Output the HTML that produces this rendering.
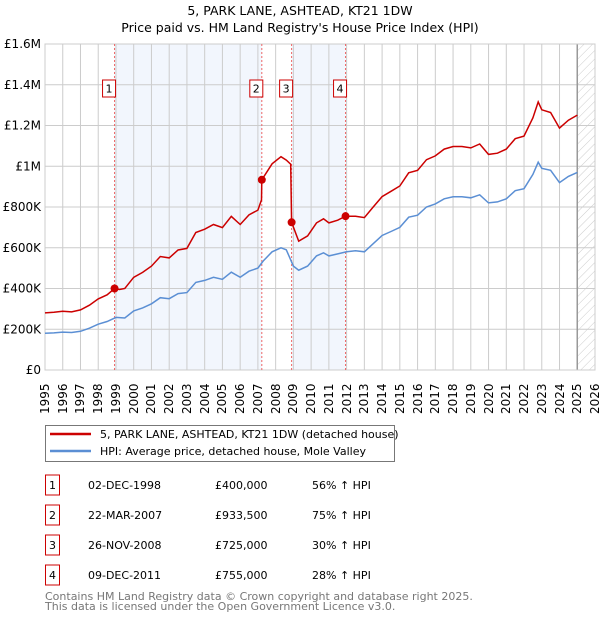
<!DOCTYPE html>
<html><head><meta charset="utf-8"><style>
body{margin:0;background:#fff;font-family:"DejaVu Sans","Liberation Sans",sans-serif;}
#wrap{position:relative;width:600px;height:620px;}
svg{display:block;position:absolute;left:0;top:0}
text{font-family:"DejaVu Sans","Liberation Sans",sans-serif;}
.yr{position:absolute;top:380px;font-size:12px;line-height:14px;writing-mode:vertical-rl;transform:rotate(180deg);white-space:nowrap;width:14px;height:34px;text-align:left;}
</style></head><body>
<div id="wrap">
<svg id="chart" width="600" height="620">
<defs><pattern id="hatch" width="6" height="6" patternUnits="userSpaceOnUse" patternTransform="rotate(45)"><line x1="0" y1="0" x2="0" y2="6" stroke="#ccc" stroke-width="1"/></pattern></defs>
<text x="300" y="15" text-anchor="middle" font-size="12.5">5, PARK LANE, ASHTEAD, KT21 1DW</text>
<text x="300" y="32" text-anchor="middle" font-size="12.5">Price paid vs. HM Land Registry's House Price Index (HPI)</text>
<g id="plot"></g>
<g>
<rect x="45.5" y="425.5" width="349" height="36" fill="#fff" stroke="#777"/>
<line x1="50" y1="434" x2="91" y2="434" stroke="#cc0000" stroke-width="2.5"/>
<text x="100" y="438" font-size="11">5, PARK LANE, ASHTEAD, KT21 1DW (detached house)</text>
<line x1="50" y1="451" x2="91" y2="451" stroke="#5b8fd4" stroke-width="2.5"/>
<text x="100" y="455" font-size="11">HPI: Average price, detached house, Mole Valley</text>
</g>
<g id="table"></g>
<text x="45" y="600" font-size="11" fill="#777">Contains HM Land Registry data © Crown copyright and database right 2025.</text>
<text x="45" y="610" font-size="11" fill="#777">This data is licensed under the Open Government Licence v3.0.</text>
</svg>
<div id="xlabels"></div>
</div>
<script>
const hpiT=[1995.0,1995.5,1996.0,1996.5,1997.0,1997.5,1998.0,1998.5,1999.0,1999.5,2000.0,2000.5,2001.0,2001.5,2002.0,2002.5,2003.0,2003.5,2004.0,2004.5,2005.0,2005.5,2006.0,2006.5,2007.0,2007.3,2007.8,2008.3,2008.6,2009.0,2009.3,2009.8,2010.3,2010.7,2011.0,2011.5,2012.0,2012.5,2013.0,2013.5,2014.0,2014.5,2015.0,2015.5,2016.0,2016.5,2017.0,2017.5,2018.0,2018.5,2019.0,2019.5,2020.0,2020.5,2021.0,2021.5,2022.0,2022.5,2022.8,2023.0,2023.5,2024.0,2024.5,2025.0];
const hpiV=[180,182,186,184,190,205,225,238,258,255,290,305,325,355,350,375,380,430,440,455,445,480,455,485,500,535,580,600,590,510,490,510,560,575,560,570,580,585,580,620,660,680,700,750,760,800,815,840,850,850,845,860,820,825,840,880,890,960,1020,990,980,920,950,970];
const redT=[1995.0,1995.5,1996.0,1996.5,1997.0,1997.5,1998.0,1998.5,1998.92,1999.2,1999.5,2000.0,2000.5,2001.0,2001.5,2002.0,2002.5,2003.0,2003.5,2004.0,2004.5,2005.0,2005.5,2006.0,2006.5,2007.0,2007.2,2007.22,2007.8,2008.3,2008.6,2008.85,2008.9,2009.3,2009.8,2010.3,2010.7,2011.0,2011.5,2011.94,2012.5,2013.0,2013.5,2014.0,2014.5,2015.0,2015.5,2016.0,2016.5,2017.0,2017.5,2018.0,2018.5,2019.0,2019.5,2020.0,2020.5,2021.0,2021.5,2022.0,2022.5,2022.8,2023.0,2023.5,2024.0,2024.5,2025.0];
const redV=[280,283,288,285,295,318,349,369,400,395,400,455,479,510,557,550,589,597,675,691,714,699,754,714,761,785,835,933,1012,1047,1030,1010,725,632,658,722,742,722,735,755,755,748,800,851,877,903,968,980,1032,1051,1084,1097,1097,1090,1109,1058,1064,1084,1135,1148,1238,1316,1277,1264,1187,1226,1251];
const saleT=[1998.92,2007.22,2008.9,2011.94];
const saleV=[400,933.5,725,755];
const saleLabels=["1","2","3","4"];
const saleDates=["02-DEC-1998","22-MAR-2007","26-NOV-2008","09-DEC-2011"];
const salePrices=["£400,000","£933,500","£725,000","£755,000"];
const saleHpi=["56% ↑ HPI","75% ↑ HPI","30% ↑ HPI","28% ↑ HPI"];
const yTicks=[0,200,400,600,800,1000,1200,1400,1600];
const yTickLabels=["£0","£200K","£400K","£600K","£800K","£1M","£1.2M","£1.4M","£1.6M"];
const years=[1995,1996,1997,1998,1999,2000,2001,2002,2003,2004,2005,2006,2007,2008,2009,2010,2011,2012,2013,2014,2015,2016,2017,2018,2019,2020,2021,2022,2023,2024,2025,2026];
const dataEnd=2025.0;

const NS="http://www.w3.org/2000/svg";
const X0=45,X1=595,Y0=370,Y1=44;
const xs=t=>X0+(t-1995)/(2026-1995)*(X1-X0);
const ys=v=>Y0-v/1600*(Y0-Y1);
const plot=document.getElementById('plot');
function mk(tag,attrs,parent){const e=document.createElementNS(NS,tag);for(const k in attrs)e.setAttribute(k,attrs[k]);(parent||plot).appendChild(e);return e;}

let bg=mk('rect',{x:X0,y:Y1,width:X1-X0,height:Y0-Y1,fill:'#fff'});


for(const [a,b] of [[0,1],[2,3]]){
 let r=mk('rect',{x:xs(saleT[a]),y:Y1,width:xs(saleT[b])-xs(saleT[a]),height:Y0-Y1,fill:'#eef3fc',opacity:0.75});
 
 
}
let h=mk('rect',{x:xs(dataEnd),y:Y1,width:X1-xs(dataEnd),height:Y0-Y1,fill:'url(#hatch)'});


const xl=document.getElementById('xlabels');
years.forEach(y=>{
 let l=mk('line',{x1:xs(y),x2:xs(y),y1:Y1,y2:Y0,stroke:'#ccc','stroke-width':1});
 
 
 const d=document.createElement('div');
 d.className='yr';
 d.style.left=(xs(y)-7)+'px';
 d.textContent=y;
 
 
 xl.appendChild(d);
});
yTicks.forEach((v,i)=>{
 let l=mk('line',{x1:X0,x2:X1,y1:ys(v),y2:ys(v),stroke:'#ccc','stroke-width':1});
 
 
 let t=mk('text',{x:X0-4,y:ys(v)+4,'font-size':12,'text-anchor':'end'});
 t.textContent=yTickLabels[i];
 
 
});
let el=mk('line',{x1:xs(dataEnd),x2:xs(dataEnd),y1:Y1,y2:Y0,stroke:'#999','stroke-width':1.5});


let fr=mk('rect',{x:X0,y:Y1,width:X1-X0,height:Y0-Y1,fill:'none',stroke:'#ccc'});


saleT.forEach((t,i)=>{
 let l=mk('line',{x1:xs(t),x2:xs(t),y1:Y1,y2:Y0,stroke:'#e66','stroke-width':1,'stroke-dasharray':'2,2'});
 
 
 let b=mk('rect',{x:xs(t)-12,y:80,width:13,height:17,fill:'#fff',stroke:'#cc0000'});
 
 
 let tx=mk('text',{x:xs(t)-5.5,y:92.5,'font-size':11,'text-anchor':'middle'});
 tx.textContent=saleLabels[i];
 
 
});
function path(T,V){return T.map((t,i)=>(i?'L':'M')+xs(t).toFixed(1)+','+ys(V[i]).toFixed(1)).join('');}
let hp=mk('path',{d:path(hpiT,hpiV),fill:'none',stroke:'#5b8fd4','stroke-width':1.5});


let rp=mk('path',{d:path(redT,redV),fill:'none',stroke:'#cc0000','stroke-width':1.5});


saleT.forEach((t,i)=>{
 let c=mk('circle',{cx:xs(t),cy:ys(saleV[i]),r:4,fill:'#cc0000'});
 
 
});
const tb=document.getElementById('table');
saleLabels.forEach((s,i)=>{
 const cy=485+i*30;
 let b=mk('rect',{x:45.5,y:cy-10,width:14,height:20,fill:'#fff',stroke:'#cc0000'},tb);
 
 
 let t=mk('text',{x:52.5,y:cy+4,'font-size':11,'text-anchor':'middle'},tb);t.textContent=s;
 
 
 let d=mk('text',{x:88,y:cy+4,'font-size':11},tb);d.textContent=saleDates[i];
 
 
 let p=mk('text',{x:215,y:cy+4,'font-size':11},tb);p.textContent=salePrices[i];
 
 
 let q=mk('text',{x:312,y:cy+4,'font-size':11},tb);q.textContent=saleHpi[i];
 
 
});
</script>
</body></html>
